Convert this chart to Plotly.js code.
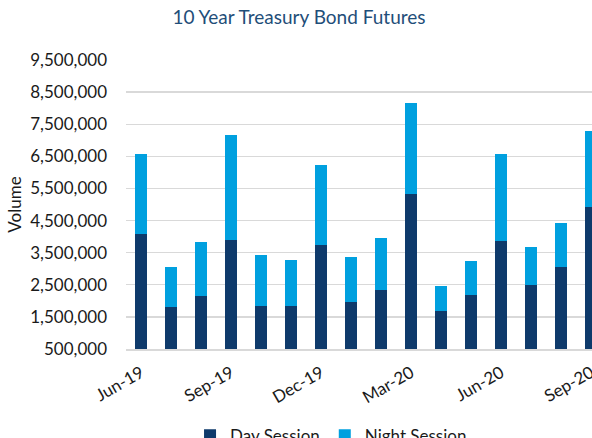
<!DOCTYPE html>
<html>
<head>
<meta charset="utf-8">
<script src="https://cdn.plot.ly/plotly-3.0.1.min.js"></script>
<style>html,body{margin:0;padding:0;background:#fff;}#chart{width:592px;height:438px;}</style>
</head>
<body>
<div id="chart"></div>
<script>
const months = ['Jun-19','Jul-19','Aug-19','Sep-19','Oct-19','Nov-19','Dec-19','Jan-20','Feb-20','Mar-20','Apr-20','May-20','Jun-20','Jul-20','Aug-20','Sep-20'];
const daySession = [4080000,1800000,2150000,3880000,1830000,1830000,3740000,1970000,2340000,5330000,1680000,2180000,3870000,2490000,3040000,4910000];
const nightSession = [2500000,1255000,1670000,3300000,1610000,1450000,2500000,1380000,1630000,2840000,770000,1070000,2700000,1180000,1380000,2380000];
const tickMonths = ['Jun-19','Sep-19','Dec-19','Mar-20','Jun-20','Sep-20'];
const yTicks = [500000,1500000,2500000,3500000,4500000,5500000,6500000,7500000,8500000,9500000];

const FONT = 'Lato, "Open Sans", sans-serif';
const data = [
  {type:'bar', name:'Day Session', x:months, y:daySession, marker:{color:'#0E3A6B'}},
  {type:'bar', name:'Night Session', x:months, y:nightSession, marker:{color:'#00A0DF'}}
];
const layout = {
  width:592, height:438,
  margin:{l:126, r:0, t:60, b:89, autoexpand:false},
  paper_bgcolor:'#fff', plot_bgcolor:'#fff',
  barmode:'stack', bargap:0.61,
  font:{family:FONT, color:'#1a1a1a', size:17},
  title:{text:'10 Year Treasury Bond Futures', font:{family:FONT, size:19, color:'#1F4E79'},
         x:0.505, xanchor:'center', xref:'container', y:0.961, yanchor:'middle', yref:'container'},
  xaxis:{type:'category', range:[-0.5,15.03], tickmode:'array', tickvals:tickMonths, ticktext:tickMonths,
         tickangle:-30, showgrid:false, showline:true, linecolor:'#D9D9D9', linewidth:1.5, automargin:false,
         ticks:'', ticklabelstandoff:6, tickfont:{size:17, family:FONT, color:'#1a1a1a'}},
  yaxis:{range:[500000,9500000], tickmode:'array', tickvals:yTicks, tickformat:',d', automargin:false,
         showgrid:true, gridcolor:'#D9D9D9', gridwidth:1.3, zeroline:false, ticks:'',
         ticklabelstandoff:18, tickfont:{size:17, family:FONT, color:'#1a1a1a'},
         title:{text:'Volume', font:{size:17, family:FONT, color:'#1a1a1a'}, standoff:4}},
  legend:{orientation:'h', x:0.44, xanchor:'center', y:-0.238, yanchor:'top',
          font:{size:17, family:FONT, color:'#1a1a1a'}, traceorder:'normal'},
  showlegend:true
};
Plotly.newPlot('chart', data, layout, {displayModeBar:false, staticPlot:true});
</script>
</body>
</html>
